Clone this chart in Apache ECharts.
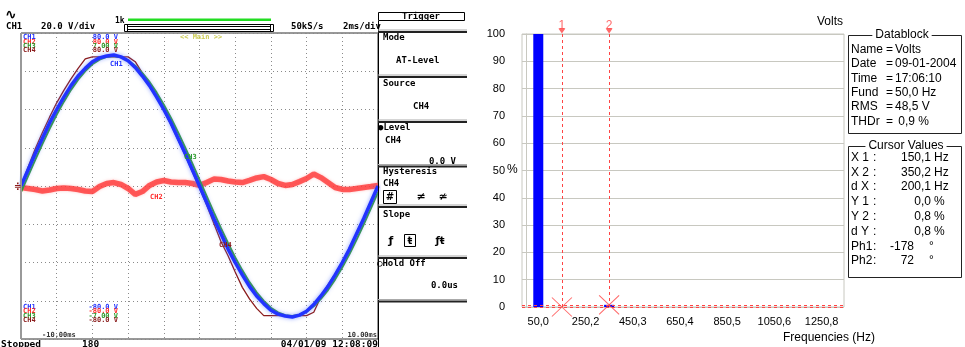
<!DOCTYPE html>
<html>
<head>
<meta charset="utf-8">
<script src="https://cdn.jsdelivr.net/npm/echarts@6/dist/echarts.min.js"></script>
<style>
  html, body { margin: 0; padding: 0; background: #fff; }
  #chart { width: 965px; height: 347px; }
</style>
</head>
<body>
<div id="chart"></div>
<script>
// ---- scope traces (one period, 2 ms/div) ----
const tMs = [0, 0.4, 0.8, 1.2, 1.6, 2.0, 2.4, 2.8, 3.2, 3.6, 4.0, 4.4, 4.8, 5.2, 5.6, 6.0, 6.4, 6.8, 7.2, 7.6,
  8.0, 8.4, 8.8, 9.2, 9.6, 10.0, 10.4, 10.8, 11.2, 11.6, 12.0, 12.4, 12.8, 13.2, 13.6, 14.0, 14.4, 14.8, 15.2, 15.6,
  16.0, 16.4, 16.8, 17.2, 17.6, 18.0, 18.4, 18.8, 19.2, 19.6, 20.0];
const ch1V = [0, 8.5, 17, 25, 33, 40, 46.5, 52.5, 57.5, 61.5, 65, 67, 68, 68.5, 67.5, 65.5, 62, 57.5, 52.5, 46.5,
  40, 33, 25, 17, 8.5, 0, -8.5, -17, -25, -33, -40, -46.5, -52.5, -57.5, -61.5, -65, -67, -68, -68.5, -67.5,
  -65.5, -62, -57.5, -52.5, -46.5, -40, -33, -25, -17, -8.5, 0];
const ch2V = [-0.8, -1.3, -1.8, -2.6, -2.1, -1.3, -1.0, -1.3, -1.8, -2.6, -2.9, -0.3, 1.3, 1.8, 0.8, -1.3, -4.4, -2.9, 0.3, 2.1,
  2.9, 2.1, 1.8, 1.8, 1.3, 0.3, 1.8, 3.6, 3.4, 2.6, 2.1, 1.8, 2.9, 4.2, 4.9, 3.4, 1.3, 0.3, 0.8, 2.3,
  3.9, 6.3, 4.4, 1.8, -0.8, -1.8, -1.8, -1.3, -0.8, -0.3, 0.3];
const ch3V = [-0.28, 0.47, 1.21, 1.93, 2.62, 3.27, 3.86, 4.40, 4.87, 5.26, 5.57, 5.78, 5.91, 5.95, 5.89, 5.74, 5.50, 5.16, 4.76, 4.27,
  3.72, 3.11, 2.45, 1.75, 1.02, 0.28, -0.47, -1.21, -1.93, -2.62, -3.27, -3.86, -4.40, -4.87, -5.26, -5.57, -5.78, -5.91, -5.95, -5.89,
  -5.74, -5.50, -5.16, -4.76, -4.27, -3.72, -3.11, -2.45, -1.75, -1.02, -0.28];
const ch4V = [0, 10, 19.5, 28, 36, 43.5, 50, 56, 61.5, 66.5, 67.5, 67.5, 67.5, 67.5, 67.5, 67.5, 65, 59, 53, 46.5,
  39.5, 32, 24, 16, 7.5, -1, -10, -19.5, -29, -36.5, -45, -53, -59, -64, -67.8, -67.8, -67.8, -67.8, -67.8, -67.8,
  -67.8, -66, -58, -51.5, -46, -39.5, -32.5, -24.5, -16.5, -8, 0];

// ---- harmonic spectrum ----
const harmonicHz = [50.0, 100.1, 150.1, 200.1, 250.2, 300.2, 350.2, 400.3, 450.3, 500.3, 550.3, 600.4, 650.4,
  700.4, 750.5, 800.5, 850.5, 900.5, 950.6, 1000.6, 1050.6, 1100.7, 1150.7, 1200.7, 1250.8, 1300.8];
const harmonicPct = [100, 0, 0, 0, 0, 0, 0.8, 0, 0, 0, 0, 0, 0, 0, 0, 0, 0, 0, 0, 0, 0, 0, 0, 0, 0, 0];
const freqTicks = [50.0, 250.2, 450.3, 650.4, 850.5, 1050.6, 1250.8];
const cursorNames = ['1', '2'];
const cursorHz = [150.1, 350.2];
const cursorPct = [0.0, 0.8];

const datablockRows = [['Name', 'Volts'], ['Date', '09-01-2004'], ['Time', '17:06:10'],
  ['Fund', '50,0 Hz'], ['RMS', '48,5 V'], ['THDr', ' 0,9 %']];
const cursorRows = [['X 1', '150,1', 'Hz'], ['X 2', '350,2', 'Hz'], ['d X', '200,1', 'Hz'],
  ['Y 1', '0,0', '%'], ['Y 2', '0,8', '%'], ['d Y', '0,8', '%'], ['Ph1', '-178', '°'], ['Ph2', '72', '°']];

const MONO = '"DejaVu Sans Mono", monospace';
const SANS = '"Liberation Sans", Arial, sans-serif';
const C1 = '#2233ff', C2 = '#ff2d2d', C3 = '#2e9b2e', C4 = '#8b1c1c';
const CURSOR = '#ff4444';

function txt(x, y, text, font, color, align, bg) {
  const el = {
    type: 'text', x: x, y: y, z: 100, silent: true,
    style: { text: text, font: font, fill: color || '#000', align: align || 'left', verticalAlign: 'middle' }
  };
  if (bg) { el.style.backgroundColor = bg; el.style.padding = [0, 3]; }
  return el;
}
function line(x1, y1, x2, y2, color, w) {
  return { type: 'line', z: 100, silent: true, shape: { x1, y1, x2, y2 }, style: { stroke: color, lineWidth: w || 1 } };
}
function rect(x, y, w, h, color, lw) {
  return { type: 'rect', z: 100, silent: true, shape: { x: x, y: y, width: w, height: h },
    style: { fill: 'none', stroke: color || '#000', lineWidth: lw || 1 } };
}

const g = [];
const bold9 = 'bold 9px ' + MONO;
const tiny = 'bold 7px ' + MONO;

// scope header
g.push(txt(5, 15, '∿', 'bold 14px "DejaVu Sans"', '#000'));
g.push(txt(6, 27, 'CH1', bold9));
g.push(txt(41, 27, '20.0 V/div', bold9));
g.push(txt(115, 20.5, '1k', 'bold 8px ' + MONO));
g.push({ type: 'rect', z: 100, silent: true, shape: { x: 128, y: 18.5, width: 143, height: 2.5 }, style: { fill: '#22dd22' } });
g.push(rect(124.5, 24.5, 149, 7, '#000'));
g.push(line(127.5, 24.5, 127.5, 31.5, '#000'));
g.push(line(270.5, 24.5, 270.5, 31.5, '#000'));
g.push(line(128, 26.5, 270, 26.5, '#000'));
g.push(line(128, 29.5, 270, 29.5, '#000'));
g.push(txt(291, 27, '50kS/s', bold9));
g.push(txt(343, 27, '2ms/div', bold9));

// scope plot labels
g.push(line(21, 33, 21, 339, '#999', 2));
g.push(txt(180, 37.5, '<< Main >>', tiny, '#cccc55'));
const chNames = ['CH1', 'CH2', 'CH3', 'CH4'];
const chCols = [C1, C2, C3, C4];
const topVals = ['80.0 V', '80.0 V', '7.00 V', '80.0 V'];
const botVals = ['-80.0 V', '-80.0 V', '-7.00 V', '-80.0 V'];
const topY = [37.5, 41.8, 46.1, 50.4];
const botY = [307.3, 311.6, 315.9, 320.2];
chNames.forEach((n, i) => {
  g.push(txt(23, topY[i], n, tiny, chCols[i]));
  g.push(txt(118, topY[i], topVals[i], tiny, chCols[i], 'right'));
  g.push(txt(23, botY[i], n, tiny, chCols[i]));
  g.push(txt(118, botY[i], botVals[i], tiny, chCols[i], 'right'));
});
g.push(txt(110, 64, 'CH1', tiny, C1));
g.push(txt(184, 157, 'CH3', tiny, C3));
g.push(txt(150, 197.5, 'CH2', tiny, C2));
g.push(txt(219, 245, 'CH4', tiny, C4));
g.push(txt(14, 187, '≑', 'bold 9px "DejaVu Sans"', C4));
g.push(txt(42, 335.5, '-10.00ms', tiny, '#333'));
g.push(txt(377, 335.5, '10.00ms', tiny, '#333', 'right'));
g.push(txt(1, 345, 'Stopped', 'bold 9.5px ' + MONO));
g.push(txt(82, 345, '180', 'bold 9.5px ' + MONO));
g.push(txt(378, 345, '04/01/09 12:08:09', 'bold 9.5px ' + MONO, '#000', 'right'));

// trigger menu
g.push(rect(378.5, 12.5, 86, 8, '#000'));
g.push(txt(421, 16.8, 'Trigger', bold9, '#000', 'center'));
g.push(line(378.5, 21, 378.5, 347, '#000'));
[32, 77, 122, 166.5, 207, 258, 301.5].forEach(y => {
  g.push(line(378, y - 2, 467, y - 2, '#aaa', 1));
  g.push(line(378, y, 467, y, '#222', 2));
});
g.push(txt(383, 38, 'Mode', bold9));
g.push(txt(396, 61, 'AT-Level', bold9));
g.push(txt(383, 84, 'Source', bold9));
g.push(txt(413, 107, 'CH4', bold9));
g.push(txt(378, 128, '●Level', bold9));
g.push(txt(385, 141, 'CH4', bold9));
g.push(txt(456, 162, '0.0 V', bold9, '#000', 'right'));
g.push(txt(383, 172, 'Hysteresis', bold9));
g.push(txt(383, 184, 'CH4', bold9));
g.push(rect(383.5, 190.5, 13, 13, '#000'));
g.push(txt(390, 197, '#', 'bold 10px "DejaVu Sans"', '#000', 'center'));
g.push(txt(421, 197, '≠', 'bold 11px "DejaVu Sans"', '#000', 'center'));
g.push(txt(443, 197, '≄', 'bold 11px "DejaVu Sans"', '#000', 'center'));
g.push(txt(383, 215, 'Slope', bold9));
g.push(txt(391, 241, 'ƒ', 'bold 11px "DejaVu Sans"', '#000', 'center'));
g.push(rect(404.5, 234.5, 11, 12, '#000'));
g.push(txt(410, 241, 'ŧ', 'bold 10px "DejaVu Sans"', '#000', 'center'));
g.push(txt(440, 241, 'ƒŧ', 'bold 10px "DejaVu Sans"', '#000', 'center'));
g.push(txt(377, 264, '○Hold Off', bold9));
g.push(txt(458, 286, '0.0us', bold9, '#000', 'right'));

// spectrum panel texts
const s12 = '12px ' + SANS;
g.push(txt(843, 22, 'Volts', s12, '#000', 'right'));
g.push(txt(507, 170, '%', s12));
g.push(txt(875, 338, 'Frequencies (Hz)', s12, '#000', 'right'));

// Datablock
g.push(rect(848.5, 35.5, 113, 98, '#222'));
g.push(txt(902, 35, 'Datablock', s12, '#000', 'center', '#fff'));
datablockRows.forEach((r, i) => {
  const y = 49.5 + i * 14.4;
  g.push(txt(851, y, r[0], s12));
  g.push(txt(886, y, '=', s12));
  g.push(txt(895, y, r[1], s12));
});

// Cursor values
g.push(rect(848.5, 146.5, 113, 131, '#222'));
g.push(txt(906, 146, 'Cursor Values', s12, '#000', 'center', '#fff'));
cursorRows.forEach((r, i) => {
  const y = 157.5 + i * 14.8;
  const ph = i >= 6;
  g.push(txt(851, y, r[0], s12));
  g.push(txt(873, y, ':', s12));
  g.push(txt(ph ? 914 : 931, y, r[1], s12, '#000', 'right'));
  g.push(txt(ph ? 929 : 934, y, r[2], s12));
});

const chart = echarts.init(document.getElementById('chart'));
const dotted = { color: '#8a8a8a', type: [1, 3], width: 1 };

chart.setOption({
  animation: false,
  backgroundColor: '#fff',
  grid: [
    { left: 21, top: 33, width: 357, height: 306, show: true, borderColor: '#333', borderWidth: 1, backgroundColor: '#fff' },
    { left: 522, top: 34, width: 322, height: 273, show: true, borderColor: '#c8c8c0', borderWidth: 1, backgroundColor: '#fff' }
  ],
  xAxis: [
    { gridIndex: 0, type: 'value', min: 0, max: 20, interval: 2,
      axisLine: { show: false }, axisTick: { show: false }, axisLabel: { show: false },
      splitLine: { show: true, lineStyle: dotted } },
    { gridIndex: 1, type: 'value', min: -19, max: 1345.5,
      axisLine: { show: false }, axisTick: { show: false }, splitLine: { show: false },
      axisLabel: { customValues: freqTicks, formatter: v => v.toFixed(1).replace('.', ','),
        fontSize: 11, fontFamily: SANS, color: '#000', margin: 9 } }
  ],
  yAxis: [
    { gridIndex: 0, type: 'value', min: -80, max: 80, interval: 20,
      axisLine: { show: false }, axisTick: { show: false }, axisLabel: { show: false },
      splitLine: { show: true, lineStyle: dotted } },
    { gridIndex: 0, type: 'value', min: -7, max: 7, show: false, splitLine: { show: false } },
    { gridIndex: 1, type: 'value', min: 0, max: 100, interval: 10,
      axisLine: { show: true, lineStyle: { color: '#c8c8c0' } }, axisTick: { show: false },
      splitLine: { lineStyle: { color: '#c8c8c0' } },
      axisLabel: { fontSize: 11, fontFamily: SANS, color: '#000', margin: 17 } }
  ],
  series: [
    { name: 'CH2', type: 'line', xAxisIndex: 0, yAxisIndex: 0, showSymbol: false, silent: true,
      data: tMs.map((t, i) => [t, ch2V[i]]),
      lineStyle: { color: C2, width: 5.5, opacity: 0.75, shadowColor: 'rgba(255,140,140,0.7)', shadowBlur: 3 } },
    { name: 'CH4', type: 'line', xAxisIndex: 0, yAxisIndex: 0, showSymbol: false, silent: true,
      data: tMs.map((t, i) => [t, ch4V[i]]),
      lineStyle: { color: C4, width: 1.3 } },
    { name: 'CH3', type: 'line', xAxisIndex: 0, yAxisIndex: 1, showSymbol: false, silent: true,
      data: tMs.map((t, i) => [t, ch3V[i]]),
      lineStyle: { color: C3, width: 2 } },
    { name: 'CH1', type: 'line', xAxisIndex: 0, yAxisIndex: 0, showSymbol: false, silent: true,
      data: tMs.map((t, i) => [t, ch1V[i]]),
      lineStyle: { color: C1, width: 3.5, shadowColor: 'rgba(90,120,255,0.7)', shadowBlur: 4 } },
    { name: 'Volts', type: 'bar', xAxisIndex: 1, yAxisIndex: 2, barWidth: 10, silent: true,
      data: harmonicHz.map((f, i) => [f, harmonicPct[i]]),
      itemStyle: { color: '#0000ff' } },
    { name: 'cursorTop', type: 'scatter', xAxisIndex: 1, yAxisIndex: 2, clip: false, silent: true,
      data: cursorHz.map((f, i) => ({ name: cursorNames[i], value: [f, 100] })),
      symbol: 'triangle', symbolRotate: 180, symbolSize: [7, 5], symbolOffset: [0, -3],
      itemStyle: { color: CURSOR },
      label: { show: true, position: 'top', distance: 0, offset: [0, 3], formatter: '{b}', color: CURSOR, fontSize: 12, fontFamily: SANS } },
    { name: 'cursors', type: 'scatter', xAxisIndex: 1, yAxisIndex: 2, clip: false, silent: true,
      data: cursorHz.map((f, i) => [f, cursorPct[i]]),
      symbol: 'path://M0,0L1,1M1,0L0,1', symbolSize: [20, 19],
      itemStyle: { color: 'rgba(0,0,0,0)', borderColor: CURSOR, borderWidth: 1 },
      markLine: { silent: true, symbol: 'none', label: { show: false },
        lineStyle: { color: CURSOR, type: [3, 3], width: 1 },
        data: cursorHz.map(f => ({ xAxis: f })).concat(cursorPct.map(p => ({ yAxis: p }))) } }
  ],
  graphic: g
});
</script>
</body>
</html>
